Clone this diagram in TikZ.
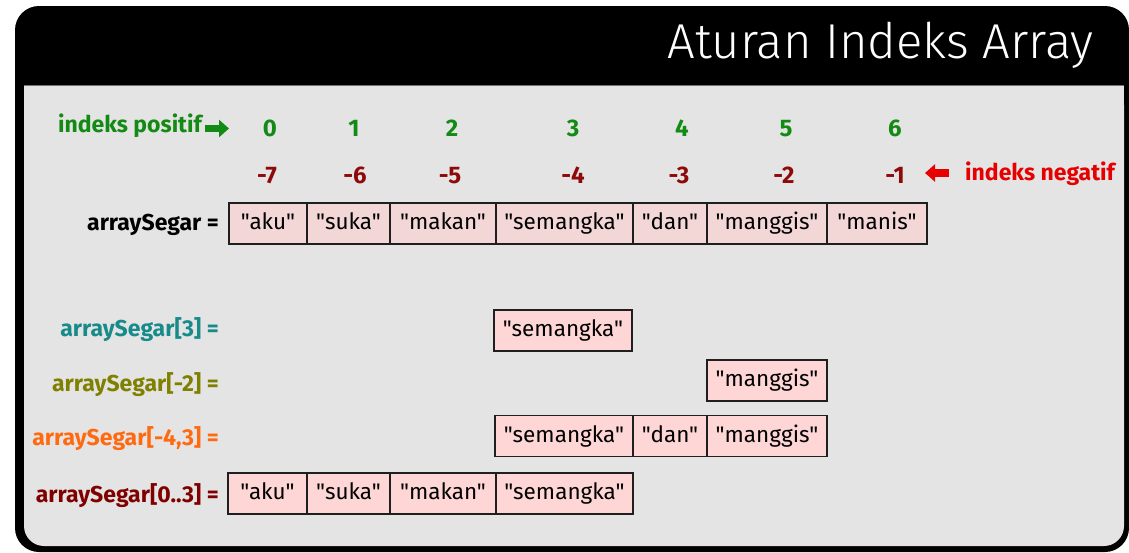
\documentclass[tikz,border=0pt]{standalone}
\usepackage{fontspec}
\setmainfont{Fira Sans}
\newfontfamily\cellfam{Fira Sans}
\newfontfamily\titlefam{Fira Sans Light}
\usetikzlibrary{positioning,arrows.meta}

\definecolor{panelgray}{HTML}{E4E4E4}
\definecolor{cellpink}{HTML}{F3D6D6}
\definecolor{slicepink}{HTML}{FFD6D6}
\definecolor{posgreen}{HTML}{138A13}
\definecolor{negred}{HTML}{8E0A0A}
\definecolor{arrowred}{HTML}{E60000}
\definecolor{tealtxt}{HTML}{178A8A}
\definecolor{olivetxt}{HTML}{808000}
\definecolor{orangetxt}{HTML}{FF6A10}
\definecolor{maroontxt}{HTML}{800000}

\newcommand{\cellfont}{\cellfam\fontsize{22.5}{26}\selectfont}
\newcommand{\lblfont}{\fontsize{23}{27}\selectfont\bfseries}
\newcommand{\idxfont}{\fontsize{24}{28}\selectfont\bfseries}

\tikzset{
  cell/.style={draw=black!88, line width=1.8pt, fill=cellpink, minimum height=41pt,
    text height=17pt, text depth=5pt, inner sep=0pt, outer sep=0pt, font=\cellfont},
  slice/.style={cell, fill=slicepink},
  lbl/.style={anchor=base east, inner sep=0pt, font=\lblfont},
  pidx/.style={anchor=base, inner sep=0pt, text=posgreen, font=\idxfont},
  nidx/.style={anchor=base, inner sep=0pt, text=negred, font=\idxfont},
  fatarrow/.style={line width=7.5pt, -{Triangle[length=10pt,width=17pt]}}
}

\begin{document}
\begin{tikzpicture}[x=1pt, y=-1pt, node distance=0pt]
  \useasboundingbox (0,0) rectangle (1129,552);

  % frame and panel
  \fill[black, rounded corners=24pt] (15,6) rectangle (1129,552);
  \fill[panelgray, rounded corners=20pt] (24,85) rectangle (1124,546);
  \fill[panelgray] (24,85) rectangle (1124,130);
  \draw[black!55, line width=1pt] (24,85.5) -- (1124,85.5);

  \node[anchor=base east, inner sep=0pt, text=white, font=\titlefam\fontsize{49}{54}\selectfont]
    (title) at (1094,58) {Aturan Indeks Array};

  % positive indices
  \node[lbl, text=posgreen] (poslbl) at (202,132) {indeks positif};
  \coordinate (pa1) at (205,128.5);
  \coordinate (pa2) at (229,128.5);
  \draw[fatarrow, posgreen] (pa1) -- (pa2);
  \node[pidx] (p0) at (270,136) {0};
  \node[pidx] (p1) at (354,136) {1};
  \node[pidx] (p2) at (452,136) {2};
  \node[pidx] (p3) at (573,136) {3};
  \node[pidx] (p4) at (682,136) {4};
  \node[pidx] (p5) at (786,136) {5};
  \node[pidx] (p6) at (895,136) {6};

  % negative indices
  \node[nidx] (n7) at (267,183) {-7};
  \node[nidx] (n6) at (355,183) {-6};
  \node[nidx] (n5) at (450,183) {-5};
  \node[nidx] (n4) at (573,183) {-4};
  \node[nidx] (n3) at (679,183) {-3};
  \node[nidx] (n2) at (784,183) {-2};
  \node[nidx] (n1) at (895,183) {-1};
  \coordinate (na1) at (949,173);
  \coordinate (na2) at (925,173);
  \draw[fatarrow, arrowred] (na1) -- (na2);
  \node[anchor=base west, inner sep=0pt, text=arrowred, font=\lblfont] (neglbl) at (965,180) {indeks negatif};

  % the array
  \node[lbl] (arr) at (219,230) {arraySegar =};
  \node[cell, minimum width=78pt, anchor=west] (a0) at (229,223.5) {"aku"};
  \node[cell, minimum width=83pt, right=of a0] (a1) {"suka"};
  \node[cell, minimum width=106pt, right=of a1] (a2) {"makan"};
  \node[cell, minimum width=137pt, right=of a2] (a3) {"semangka"};
  \node[cell, minimum width=74pt, right=of a3] (a4) {"dan"};
  \node[cell, minimum width=120pt, right=of a4] (a5) {"manggis"};
  \node[cell, minimum width=100pt, right=of a5] (a6) {"manis"};

  % arraySegar[3]
  \node[lbl, text=tealtxt] (q1) at (219,336.5) {arraySegar[3] =};
  \node[slice, minimum width=138pt, anchor=west] (b3) at (494,330.5) {"semangka"};

  % arraySegar[-2]
  \node[lbl, text=olivetxt] (q2) at (219,391) {arraySegar[-2] =};
  \node[slice, minimum width=120pt, anchor=west] (c5) at (707,380.5) {"manggis"};

  % arraySegar[-4,3]
  \node[lbl, text=orangetxt] (q3) at (219,445.5) {arraySegar[-4,3] =};
  \node[slice, minimum width=138pt, anchor=west] (d3) at (495,436) {"semangka"};
  \node[slice, minimum width=74pt, right=of d3] (d4) {"dan"};
  \node[slice, minimum width=120pt, right=of d4] (d5) {"manggis"};

  % arraySegar[0..3]
  \node[lbl, text=maroontxt] (q4) at (219,502) {arraySegar[0..3] =};
  \node[slice, minimum width=79pt, anchor=west] (e0) at (228,493.5) {"aku"};
  \node[slice, minimum width=83pt, right=of e0] (e1) {"suka"};
  \node[slice, minimum width=106pt, right=of e1] (e2) {"makan"};
  \node[slice, minimum width=137pt, right=of e2] (e3) {"semangka"};
\end{tikzpicture}
\end{document}
